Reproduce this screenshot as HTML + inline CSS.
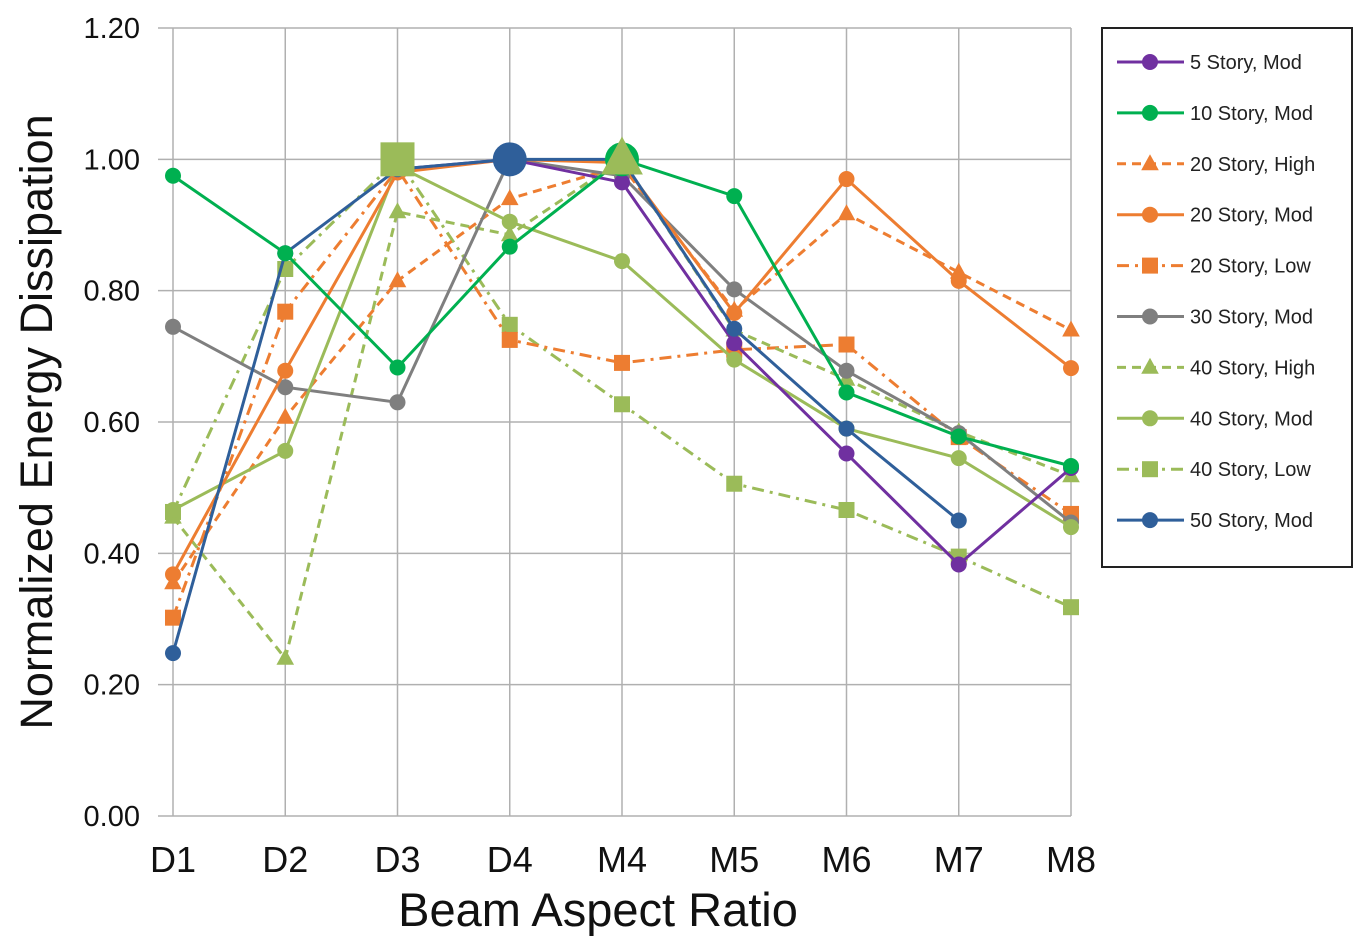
<!DOCTYPE html>
<html><head><meta charset="utf-8"><style>
body{margin:0;background:#fff;width:1367px;height:948px;overflow:hidden}
svg{display:block;font-family:"Liberation Sans",sans-serif}
</style></head><body>
<svg id="chart" width="1367" height="948"></svg>
<script>
const categories=["D1","D2","D3","D4","M4","M5","M6","M7","M8"];
const yTicks=[0,0.2,0.4,0.6,0.8,1.0,1.2];
const names=["5 Story, Mod","10 Story, Mod","20 Story, High","20 Story, Mod","20 Story, Low","30 Story, Mod","40 Story, High","40 Story, Mod","40 Story, Low","50 Story, Mod"];
const s5Mod=[null,null,0.985,1.0,0.965,0.72,0.552,0.383,0.53];
const s10Mod=[0.975,0.857,0.683,0.867,1.0,0.944,0.645,0.578,0.533];
const s20High=[0.355,0.607,0.815,0.94,0.99,0.77,0.917,0.828,0.74];
const s20Mod=[0.368,0.678,0.98,1.0,0.995,0.766,0.97,0.815,0.682];
const s20Low=[0.302,0.768,0.985,0.725,0.69,0.71,0.718,0.577,0.46];
const s30Mod=[0.745,0.653,0.63,1.0,0.975,0.802,0.678,0.583,0.447];
const s40High=[0.455,0.24,0.92,0.885,1.0,0.74,0.665,0.585,0.518];
const s40Mod=[0.466,0.556,0.99,0.905,0.845,0.695,0.59,0.545,0.44];
const s40Low=[0.463,0.833,1.0,0.748,0.627,0.506,0.466,0.395,0.318];
const s50Mod=[0.248,0.857,0.985,1.0,1.0,0.742,0.59,0.45,null];
const seriesData=[s5Mod,s10Mod,s20High,s20Mod,s20Low,s30Mod,s40High,s40Mod,s40Low,s50Mod];
const colors=["#7030a0","#00b050","#ed7d31","#ed7d31","#ed7d31","#7f7f7f","#9bbb59","#9bbb59","#9bbb59","#2f5f9a"];
const markers=["c","c","t","c","s","c","t","c","s","c"];
const dashes=["","","9,6","","12,6,3,6","","9,6","","12,6,3,6",""];
const bigIdx=[null,4,null,null,null,null,4,null,2,3];
const order=[8,4,6,2,5,7,3,0,9,1];
const bigOrder=[8,9,1,6];

const NS="http://www.w3.org/2000/svg";
const svg=document.getElementById("chart");
const X0=173,DX=112.25,Y0=816,Y1=28;
const xs=i=>X0+i*DX;
const ys=v=>Y0-(v/1.2)*(Y0-Y1);
function mk(t,a,p){const e=document.createElementNS(NS,t);for(const k in a)e.setAttribute(k,a[k]);(p||svg).appendChild(e);return e;}
const grid=mk("g",{});


yTicks.forEach(v=>{
  mk("line",{x1:158,x2:1071,y1:ys(v),y2:ys(v),stroke:"#b0b0b0","stroke-width":1.5},grid);
  const t=mk("text",{x:140,y:ys(v)+10,"text-anchor":"end","font-size":29,fill:"#111"});
  t.textContent=v.toFixed(2);
  
  
});
categories.forEach((c,i)=>{
  mk("line",{x1:xs(i),x2:xs(i),y1:Y1,y2:Y0,stroke:"#b0b0b0","stroke-width":1.5},grid);
  const t=mk("text",{x:xs(i),y:872,"text-anchor":"middle","font-size":36,fill:"#111"});
  t.textContent=c;
  
  
});
function marker(type,x,y,r,col,p){
  if(type==="c")return mk("circle",{cx:x,cy:y,r:r,fill:col},p);
  if(type==="s")return mk("rect",{x:x-r,y:y-r,width:2*r,height:2*r,fill:col},p);
  return mk("polygon",{points:`${x},${y-r*1.2} ${x-r*1.1},${y+r*0.8} ${x+r*1.1},${y+r*0.8}`,fill:col},p);
}
order.forEach(k=>{
  const g=mk("g",{});
  
  
  const d=seriesData[k];let pts=[];
  d.forEach((v,i)=>{if(v!==null)pts.push(xs(i)+","+ys(v));});
  const pl=mk("polyline",{points:pts.join(" "),fill:"none",stroke:colors[k],"stroke-width":3,"stroke-dasharray":dashes[k]},g);
  
  
  d.forEach((v,i)=>{if(v===null||bigIdx[k]===i)return;
    const m=marker(markers[k],xs(i),ys(v),8,colors[k],g);
    
    
  });
});
bigOrder.forEach(k=>{
  const i=bigIdx[k];
  const m=marker(markers[k],xs(i),ys(seriesData[k][i]),k===6?19:17,colors[k]);
  
  
});
const lg=mk("g",{});


mk("rect",{x:1102,y:28,width:250,height:539,fill:"#fff",stroke:"#222","stroke-width":2},lg);
names.forEach((n,k)=>{
  const y=62+k*50.9;
  const e=mk("g",{},lg);
  
  
  mk("line",{x1:1117,x2:1184,y1:y,y2:y,stroke:colors[k],"stroke-width":3,"stroke-dasharray":dashes[k]},e);
  marker(markers[k],1150,y,8,colors[k],e);
  const t=mk("text",{x:1190,y:y+7,"font-size":20,fill:"#222"},e);
  t.textContent=n;
});
const yt=mk("text",{x:0,y:0,"text-anchor":"middle","font-size":45,fill:"#111",transform:"translate(52,422) rotate(-90)"});
yt.textContent="Normalized Energy Dissipation";


const xt=mk("text",{x:598,y:926,"text-anchor":"middle","font-size":47,fill:"#111"});
xt.textContent="Beam Aspect Ratio";


</script>
</body></html>
